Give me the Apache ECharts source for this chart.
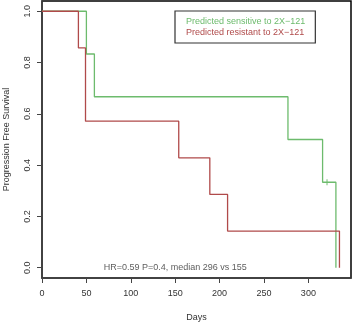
<!DOCTYPE html>
<html>
<head>
<meta charset="utf-8">
<script src="https://cdn.jsdelivr.net/npm/echarts@6/dist/echarts.min.js"></script>
<style>html,body{margin:0;padding:0;background:#fff}#c{width:352px;height:322px}</style>
</head>
<body>
<div id="c"></div>
<script>
// Kaplan-Meier step data (days, survival)
const sensitiveDays = [0, 50, 59, 277, 316, 331];
const sensitiveSurv = [1.0, 0.8333, 0.6667, 0.5, 0.3333, 0.0];
const resistantDays = [0, 41, 49, 154, 189, 209, 335];
const resistantSurv = [1.0, 0.8571, 0.5714, 0.4286, 0.2857, 0.1429, 0.0];
const censorDays = [321];
const censorSurv = [0.3333];
const xTicks = [0, 50, 100, 150, 200, 250, 300];
const yTicks = [0, 0.2, 0.4, 0.6, 0.8, 1.0];
const seriesNames = ['Predicted sensitive to 2X\u2212121', 'Predicted resistant to 2X\u2212121'];
const annotation = 'HR=0.59 P=0.4, median 296 vs 155';
const annotationAt = [150, 0];

const GREEN = '#6dbb6d';
const RED = '#b04a4a';
const TEXT = '#333';
const FONT = 'Liberation Sans, Arial, sans-serif';

const zip = (a, b) => a.map((v, i) => [v, b[i]]);

const chart = echarts.init(document.getElementById('c'), null, {renderer: 'canvas'});
chart.setOption({
  animation: false,
  backgroundColor: '#fff',
  textStyle: {fontFamily: FONT},
  grid: {left: 42, right: 1, top: 1, bottom: 44, show: true, borderColor: '#000', borderWidth: 1.5,
    containLabel: false, outerBoundsMode: 'none'},
  legend: {
    left: 175, top: 11, orient: 'vertical',
    icon: 'none', itemWidth: 0, itemHeight: 9, itemGap: 2,
    padding: [6, 10, 6, 6],
    borderColor: '#333', borderWidth: 1.2,
    textStyle: {fontSize: 9, fontFamily: FONT},
    data: [
      {name: seriesNames[0], textStyle: {color: GREEN}},
      {name: seriesNames[1], textStyle: {color: RED}}
    ]
  },
  xAxis: {
    type: 'value', min: 0, max: 348,
    name: 'Days', nameLocation: 'middle', nameGap: 35,
    nameTextStyle: {fontSize: 9, color: TEXT, fontFamily: FONT},
    axisLine: {show: true, onZero: false, lineStyle: {color: '#444', width: 1.5}},
    axisTick: {show: true, length: 5, customValues: xTicks, lineStyle: {color: '#444'}},
    axisLabel: {customValues: xTicks, fontSize: 9, color: TEXT, margin: 11, fontFamily: FONT},
    splitLine: {show: false}
  },
  yAxis: {
    type: 'value', min: -0.04, max: 1.04,
    name: 'Progression Free Survival', nameLocation: 'middle', nameGap: 31,
    nameTextStyle: {fontSize: 9, color: TEXT, fontFamily: FONT},
    axisLine: {show: true, onZero: false, lineStyle: {color: '#444', width: 1.5}},
    axisTick: {show: true, length: 5, customValues: yTicks, lineStyle: {color: '#444'}},
    axisLabel: {customValues: yTicks, rotate: 90, fontSize: 9, color: TEXT, margin: 10, fontFamily: FONT,
      formatter: v => v.toFixed(1)},
    splitLine: {show: false}
  },
  series: [
    {
      name: seriesNames[0], type: 'line', step: 'end', showSymbol: false,
      data: zip(sensitiveDays, sensitiveSurv),
      lineStyle: {color: GREEN, width: 1.3}, itemStyle: {color: GREEN}
    },
    {
      name: seriesNames[1], type: 'line', step: 'end', showSymbol: false,
      data: zip(resistantDays, resistantSurv),
      lineStyle: {color: RED, width: 1.3}, itemStyle: {color: RED}
    },
    {
      name: 'censor', type: 'scatter', symbol: 'rect', symbolSize: [1.2, 6],
      data: zip(censorDays, censorSurv), itemStyle: {color: GREEN}
    },
    {
      name: 'annotation', type: 'scatter', symbolSize: 0,
      data: [annotationAt],
      label: {show: true, position: 'inside', formatter: annotation, fontSize: 9, color: TEXT, fontFamily: FONT}
    }
  ]
});
</script>
</body>
</html>
